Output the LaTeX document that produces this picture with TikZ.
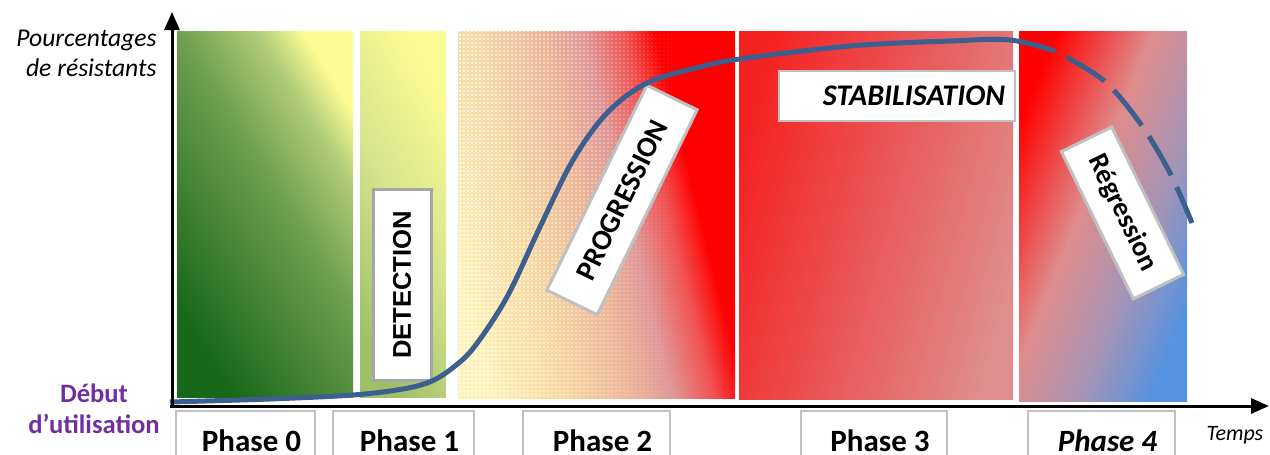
\documentclass[tikz,border=0pt]{standalone}
\usepackage{fontspec}
\setmainfont{Carlito}
\newfontfamily\arialfont{Liberation Sans}
\usetikzlibrary{arrows.meta, patterns.meta, fadings}

\definecolor{courbebleu}{RGB}{59,95,142}
\definecolor{debutviolet}{RGB}{112,48,160}
\definecolor{cadregris}{RGB}{166,166,166}
\definecolor{cadreclair}{RGB}{192,192,192}
\definecolor{vertfonce}{RGB}{24,104,26}
\definecolor{vertmoyen}{RGB}{108,158,78}
\definecolor{vertpale}{RGB}{176,204,120}
\definecolor{jaunepale}{RGB}{252,252,148}
\definecolor{vertclair}{RGB}{160,192,104}
\definecolor{vertjaune}{RGB}{214,228,140}
\definecolor{sablepale}{RGB}{253,242,182}
\definecolor{orangepale}{RGB}{247,214,160}
\definecolor{saumon}{RGB}{238,182,152}
\definecolor{rosepale}{RGB}{224,152,152}
\definecolor{rougevif}{RGB}{255,0,0}
\definecolor{rougeclair}{RGB}{242,80,80}
\definecolor{rougestab}{RGB}{245,34,34}
\definecolor{rosestab}{RGB}{223,141,141}
\definecolor{rosereg}{RGB}{222,140,140}
\definecolor{mauvereg}{RGB}{168,148,180}
\definecolor{bleureg}{RGB}{85,146,224}

\pgfdeclarehorizontalshading{phasezero}{100bp}{color(0bp)=(vertfonce); color(25bp)=(vertfonce);
  color(54bp)=(vertmoyen); color(68bp)=(vertpale); color(76bp)=(jaunepale); color(100bp)=(jaunepale)}
\pgfdeclarehorizontalshading{phaseun}{100bp}{color(0bp)=(vertclair); color(25bp)=(vertclair);
  color(50bp)=(vertjaune); color(76bp)=(jaunepale); color(100bp)=(jaunepale)}
\pgfdeclarehorizontalshading{phasedeux}{100bp}{color(0bp)=(sablepale); color(25bp)=(sablepale);
  color(38bp)=(orangepale); color(48bp)=(saumon); color(55bp)=(rosepale); color(62bp)=(rougeclair);
  color(67bp)=(rougevif); color(100bp)=(rougevif)}
\pgfdeclarehorizontalshading{phasetrois}{100bp}{color(0bp)=(rougestab); color(25bp)=(rougestab);
  color(75bp)=(rosestab); color(100bp)=(rosestab)}
\pgfdeclarehorizontalshading{phasequatre}{100bp}{color(0bp)=(rougevif); color(25bp)=(rougevif);
  color(45bp)=(rosereg); color(60bp)=(mauvereg); color(75bp)=(bleureg); color(100bp)=(bleureg)}

\begin{document}
\begin{tikzpicture}[x=0.5pt, y=-0.5pt,
    axe/.style={line width=1.5pt, -{Triangle[length=9pt, width=7.5pt]}},
    courbe/.style={line width=2.5pt, color=courbebleu, line cap=butt},
    phasetexte/.style={anchor=north, inner sep=0pt, text height=20pt, text depth=0pt,
                       font=\fontsize{15.5}{18}\selectfont\bfseries,
                       execute at begin node=\hspace*{6pt}},
    cadrephase/.style={draw=cadreclair, line width=1pt},
    etiquette/.style={draw=cadreclair, line width=1.5pt, fill=white, inner sep=0pt,
                      font=\fontsize{14.5}{17}\selectfont\bfseries}
]
    \path[use as bounding box, clip] (0,0) rectangle (1270,455);

    \shade[shading=phasezero, shading angle=32]    (177,31) rectangle (353,397);
    \shade[shading=phaseun, shading angle=30]      (360,31) rectangle (446,397);
    \shade[shading=phasedeux, shading angle=14]    (458,31) rectangle (735,398);
    \fill[pattern={Dots[distance=2pt, radius=0.55pt]}, pattern color=white, path fading=east]
        (458,31) rectangle (680,398);
    \shade[shading=phasetrois, shading angle=-15]  (739,31) rectangle (1013,399);
    \shade[shading=phasequatre, shading angle=-22] (1019,31) rectangle (1187,401);

    \node[etiquette, draw=cadregris, rotate=90, minimum width=95.5pt, minimum height=29pt,
          font=\arialfont\fontsize{12.8}{15}\selectfont\bfseries] (detection) at (402,285) {DETECTION};
    \node[etiquette, rotate=64, minimum width=114pt, minimum height=28pt] (progression) at (622,200) {PROGRESSION};
    \node[etiquette, line width=1pt, minimum width=118pt, minimum height=25pt, inner xsep=5pt,
          text width=108pt, align=right, font=\fontsize{15}{18}\selectfont\bfseries\itshape]
          (stabilisation) at (897,96) {STABILISATION};
    \node[etiquette, rotate=-64, minimum width=82pt, minimum height=28pt,
          font=\fontsize{14}{17}\selectfont\bfseries] (regression) at (1122.5,213) {Régression};

    \draw[courbe] plot[smooth, tension=0.55] coordinates {(170,402) (270,399) (353,395) (403,389)
        (432,381) (455,366) (475,346) (507,297) (540,227) (573,160) (607,113) (647,83)
        (700,67) (740,59) (850,46) (950,41) (1010,40) (1055,51)};
    \draw[courbe, dash pattern=on 22.5pt off 6.5pt, dash phase=22.5pt] plot[smooth, tension=0.55]
        coordinates {(1055,51) (1103,80) (1140,123) (1170,173) (1192,223)};

    \coordinate (origine) at (172,406);
    \coordinate (ymax) at (172,12);
    \coordinate (xmax) at (1269,406);
    \draw[axe] (origine) -- (ymax);
    \draw[axe] ([xshift=-1pt]origine) -- (xmax);

    \node[phasetexte, minimum width=69.5pt] (phase0) at (245.5,411) {Phase 0};
    \node[phasetexte, minimum width=70.5pt] (phase1) at (403.5,411) {Phase 1};
    \node[phasetexte, minimum width=73.5pt] (phase2) at (596.5,411) {Phase 2};
    \node[phasetexte, minimum width=73pt]   (phase3) at (874,411)   {Phase 3};
    \node[phasetexte, minimum width=73.5pt, font=\fontsize{15.5}{18}\selectfont\bfseries\itshape]
          (phase4) at (1101.5,411) {Phase 4};
    \foreach \p in {phase0, phase1, phase2, phase3, phase4}
        \draw[cadrephase] (\p.north west) ++(0,60) -- (\p.north west) -- (\p.north east) -- ++(0,60);

    \node[anchor=north east, align=right, inner sep=0pt, font=\fontsize{12.8}{15}\selectfont\itshape]
          (ordonnee) at (157,30) {Pourcentages\\de résistants};
    \node[anchor=north, align=center, inner sep=0pt, text=debutviolet,
          font=\fontsize{13.3}{15.5}\selectfont\bfseries] (debut) at (94,383) {Début\\d’utilisation};
    \node[anchor=base, inner sep=0pt, font=\fontsize{11}{13}\selectfont\itshape] (temps) at (1235,440) {Temps};
\end{tikzpicture}
\end{document}
